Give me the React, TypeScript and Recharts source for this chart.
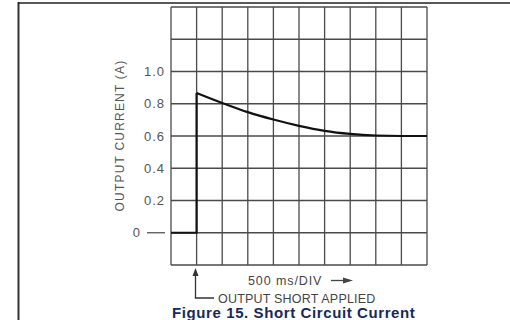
import { LineChart, Line, XAxis, YAxis, CartesianGrid, Customized } from "recharts";

// time axis in divisions (500 ms/DIV)
const divTicks = [0, 1, 2, 3, 4, 5, 6, 7, 8, 9, 10];
const currentTicks = [-0.2, 0, 0.2, 0.4, 0.6, 0.8, 1.0, 1.2, 1.4];
const labelledTicks = [0, 0.2, 0.4, 0.6, 0.8, 1.0];

// before / at the short
const stepX = [0, 1, 1];
const stepY = [0, 0, 0.867];

// decay after the short
const decayX = [1, 2, 3, 4, 5, 6, 7, 8, 9, 10];
const decayY = [0.867, 0.805, 0.748, 0.702, 0.663, 0.632, 0.613, 0.603, 0.6, 0.6];

const stepData = stepX.map((x, i) => ({ x, y: stepY[i] }));
const decayData = decayX.map((x, i) => ({ x, y: decayY[i] }));

const textFont = "'Liberation Sans', Arial, sans-serif";

const CurrentTick = (props: any) => {
  const { y, payload } = props;
  const v = payload.value;
  if (!labelledTicks.some((t) => Math.abs(t - v) < 1e-6)) return null;
  if (Math.abs(v) < 1e-6) {
    return (
      <g>
        <text x={141} y={y + 4.5} textAnchor="end" fill="#555" fontSize={13} fontFamily={textFont} letterSpacing={1}>
          0
        </text>
        <line x1={147} x2={165} y1={y} y2={y} stroke="#555" strokeWidth={1.3} />
      </g>
    );
  }
  return (
    <text x={165} y={y + 4.5} textAnchor="end" fill="#555" fontSize={13} fontFamily={textFont} letterSpacing={1}>
      {v.toFixed(1)}
    </text>
  );
};

const Annotations = () => (
  <g>
    {/* page frame */}
    <line x1={18.5} x2={18.5} y1={2} y2={320} stroke="#333" strokeWidth={2} />
    <line x1={18} x2={510} y1={3} y2={3} stroke="#222" strokeWidth={1.6} />

    {/* axis title */}
    <text
      x={124}
      y={135.5}
      transform="rotate(-90 124 135.5)"
      textAnchor="middle"
      fill="#555"
      fontSize={12}
      fontFamily={textFont}
      letterSpacing={1.2}
    >
      OUTPUT CURRENT (A)
    </text>

    {/* short applied marker */}
    <path d="M195.5 268 L192.5 276 L198.5 276 Z" fill="#333" />
    <polyline points="195.5,274 195.5,298 214,298" fill="none" stroke="#333" strokeWidth={1.3} />
    <text x={218} y={302.5} fill="#444" fontSize={12.5} fontFamily={textFont} letterSpacing={0.2}>
      OUTPUT SHORT APPLIED
    </text>
    <text x={248} y={284.5} fill="#444" fontSize={12.5} fontFamily={textFont} letterSpacing={0.9}>
      500 ms/DIV
    </text>
    <line x1={331} x2={345} y1={280.5} y2={280.5} stroke="#444" strokeWidth={1.3} />
    <path d="M353 280.5 L343 277.5 L343 283.5 Z" fill="#444" />

    <text x={172} y={318} fill="#17295a" fontSize={15} fontWeight="bold" fontFamily={textFont} letterSpacing={0.6}>
      Figure 15. Short Circuit Current
    </text>
  </g>
);

export default function App() {
  return (
    <div style={{ position: "absolute", left: 0, top: 0, background: "#fff" }}>
      <LineChart width={510} height={320} margin={{ top: 7, right: 83, bottom: 55, left: 0 }}>
        <CartesianGrid stroke="#4a4a4a" strokeWidth={1.3} horizontalValues={currentTicks} verticalValues={divTicks} />
        <XAxis dataKey="x" type="number" domain={[0, 10]} ticks={divTicks} hide />
        <YAxis
          type="number"
          domain={[-0.2, 1.4]}
          ticks={currentTicks}
          width={171}
          axisLine={false}
          tickLine={false}
          tick={<CurrentTick />}
          interval={0}
        />
        <Line data={stepData} dataKey="y" type="linear" stroke="#111" strokeWidth={2.2} dot={false} isAnimationActive={false} />
        <Line data={decayData} dataKey="y" type="monotone" stroke="#111" strokeWidth={2.2} dot={false} isAnimationActive={false} />
        <Customized component={Annotations} />
      </LineChart>
    </div>
  );
}
